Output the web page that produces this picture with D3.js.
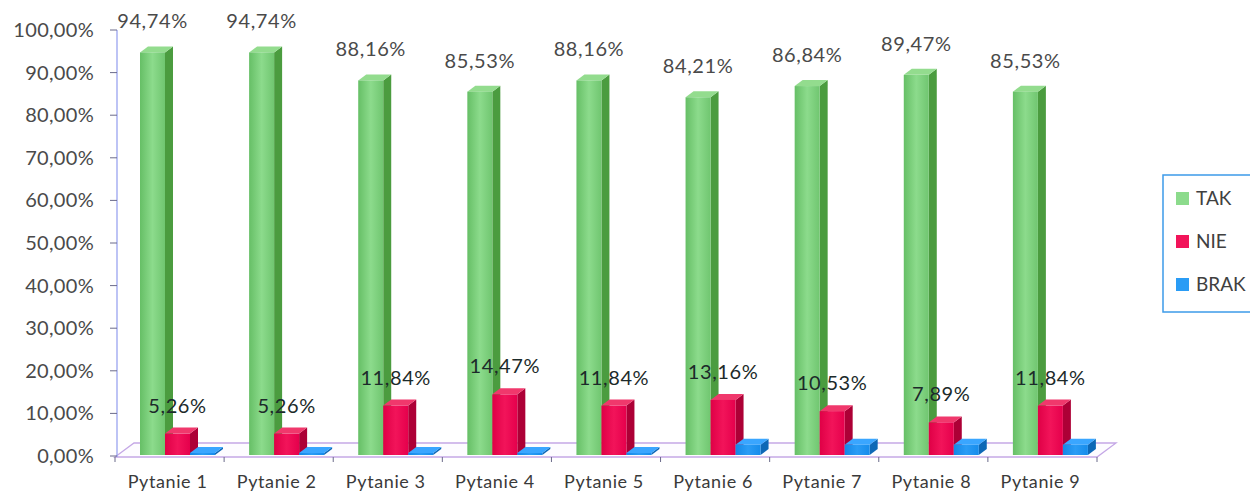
<!DOCTYPE html>
<html>
<head>
<meta charset="utf-8">
<title>Pytania</title>
<script src="https://cdnjs.cloudflare.com/ajax/libs/d3/7.8.5/d3.min.js"></script>
<style>
body { margin: 0; background: #fff; }
text { font-family: Lato, "Open Sans", sans-serif; }
.tick-label { font-size: 20px; fill: #4a4a4a; letter-spacing: 0.3px; }
.cat-label { font-size: 18px; fill: #3a3a3a; text-anchor: middle; letter-spacing: 0.6px; }
.val-tak { font-size: 20px; fill: #4a4a4a; text-anchor: middle; letter-spacing: 0.6px; }
.val-nie { font-size: 20px; fill: #1c2a2a; text-anchor: middle; letter-spacing: 0.6px; }
.legend-label { font-size: 19px; fill: #404040; }
</style>
</head>
<body>
<svg width="1250" height="492"></svg>
<script>
var categories = ["Pytanie 1", "Pytanie 2", "Pytanie 3", "Pytanie 4", "Pytanie 5",
                  "Pytanie 6", "Pytanie 7", "Pytanie 8", "Pytanie 9"];
var seriesNames = ["TAK", "NIE", "BRAK"];
var takValues = [94.74, 94.74, 88.16, 85.53, 88.16, 84.21, 86.84, 89.47, 85.53];
var nieValues = [5.26, 5.26, 11.84, 14.47, 11.84, 13.16, 10.53, 7.89, 11.84];
var brakValues = [0, 0, 0, 0, 0, 2.63, 2.63, 2.63, 2.63];
var yTicks = [0, 10, 20, 30, 40, 50, 60, 70, 80, 90, 100];

var fmt = function (v) { return v.toFixed(2).replace(".", ",") + "%"; };

var colors = {
  TAK:  { front: ["#66bf66", "#8cdb8c", "#70c670"], side: "#4b9c3f", top: "#93dc8e" },
  NIE:  { front: ["#df0046", "#f2145a", "#e5004c"], side: "#ad0036", top: "#f0386c" },
  BRAK: { front: ["#1488e6", "#2a9cf5", "#168ceb"], side: "#0d68b6", top: "#3aa6ff" }
};

var svg = d3.select("svg");
var defs = svg.append("defs");
seriesNames.forEach(function (s) {
  var g = defs.append("linearGradient").attr("id", "grad-" + s)
    .attr("x1", "0%").attr("x2", "100%").attr("y1", "0%").attr("y2", "0%");
  g.append("stop").attr("offset", "0%").attr("stop-color", colors[s].front[0]);
  g.append("stop").attr("offset", "50%").attr("stop-color", colors[s].front[1]);
  g.append("stop").attr("offset", "100%").attr("stop-color", colors[s].front[2]);
});

var x = d3.scaleBand().domain(categories).range([115, 1097]);
var sub = d3.scaleBand().domain(seriesNames).range([25, 25 + 75]);
var y = d3.scaleLinear().domain([0, 100]).range([456, 30]);
var dx = 8, dy = 6;
var fdx = 19, fdy = 14;

// floor
var y0 = y(0) + 1;
svg.append("path")
  .attr("d", "M" + x.range()[0] + "," + y0 + " L" + (x.range()[0] + fdx) + "," + (y0 - fdy) +
             " L" + (x.range()[1] + fdx) + "," + (y0 - fdy) + " L" + x.range()[1] + "," + y0 + " Z")
  .attr("fill", "#fdfcff")
  .attr("stroke", "#c5a8e6")
  .attr("stroke-width", 1.3);

// y axis
svg.append("line")
  .attr("x1", 117).attr("x2", 117).attr("y1", y(100)).attr("y2", y0)
  .attr("stroke", "#9aa4f0").attr("stroke-width", 1.3);
svg.selectAll(".ytick").data(yTicks).enter().append("line")
  .attr("x1", 110).attr("x2", 117)
  .attr("y1", function (d) { return y(d); }).attr("y2", function (d) { return y(d); })
  .attr("stroke", "#6b6b8a");
svg.selectAll(".tick-label").data(yTicks).enter().append("text")
  .attr("class", "tick-label")
  .attr("x", 94).attr("y", function (d) { return y(d) + 7; })
  .attr("text-anchor", "end")
  .text(fmt);

// x axis ticks and labels
var bounds = categories.map(function (c) { return x(c); }).concat([x.range()[1]]);
svg.selectAll(".xtick").data(bounds).enter().append("line")
  .attr("x1", function (d) { return d; }).attr("x2", function (d) { return d; })
  .attr("y1", y0).attr("y2", y0 + 5)
  .attr("stroke", "#6b6b8a");
svg.selectAll(".cat-label").data(categories).enter().append("text")
  .attr("class", "cat-label")
  .attr("x", function (d) { return x(d) + x.bandwidth() / 2 - 2; })
  .attr("y", 488)
  .text(function (d) { return d; });

// bars
var rows = [];
categories.forEach(function (c, i) {
  rows.push({ cat: c, s: "TAK", v: takValues[i] });
  rows.push({ cat: c, s: "NIE", v: nieValues[i] });
  rows.push({ cat: c, s: "BRAK", v: brakValues[i] });
});

var bars = svg.selectAll(".bar").data(rows).enter().append("g").attr("class", "bar");
bars.each(function (d) {
  var g = d3.select(this);
  var x0 = x(d.cat) + sub(d.s), x1 = x0 + sub.bandwidth();
  var yb = y(0) - 1, yt = Math.min(y(d.v), yb - 2);
  g.append("path")
    .attr("d", "M" + x1 + "," + yt + " L" + (x1 + dx) + "," + (yt - dy) + " L" + (x1 + dx) + "," + (yb - dy) +
               " L" + x1 + "," + yb + " Z")
    .attr("fill", colors[d.s].side);
  g.append("path")
    .attr("d", "M" + x0 + "," + yt + " L" + (x0 + dx) + "," + (yt - dy) + " L" + (x1 + dx) + "," + (yt - dy) +
               " L" + x1 + "," + yt + " Z")
    .attr("fill", colors[d.s].top);
  g.append("rect")
    .attr("x", x0).attr("y", yt)
    .attr("width", x1 - x0).attr("height", yb - yt)
    .attr("fill", "url(#grad-" + d.s + ")");
});

// value labels
svg.selectAll(".val-tak").data(takValues).enter().append("text")
  .attr("class", "val-tak")
  .attr("x", function (d, i) { return x(categories[i]) + sub("TAK") + sub.bandwidth() / 2; })
  .attr("y", function (d) { return y(d) - 24; })
  .text(fmt);
svg.selectAll(".val-nie").data(nieValues).enter().append("text")
  .attr("class", "val-nie")
  .attr("x", function (d, i) { return x(categories[i]) + sub("NIE") + sub.bandwidth() / 2; })
  .attr("y", function (d) { return y(d) - 21; })
  .text(fmt);

// legend
var legend = svg.append("g").attr("transform", "translate(1163,175)");
legend.append("rect")
  .attr("x", 0).attr("y", 0).attr("width", 110).attr("height", 137)
  .attr("fill", "#fff").attr("stroke", "#3d9be9").attr("stroke-width", 1.5);
var items = legend.selectAll(".legend-item").data(seriesNames).enter().append("g")
  .attr("transform", function (d, i) { return "translate(13," + (24 + i * 43) + ")"; });
items.append("rect")
  .attr("x", 0).attr("y", -7).attr("width", 13).attr("height", 13)
  .attr("fill", function (d) { return colors[d].front[1]; });
items.append("text")
  .attr("class", "legend-label")
  .attr("x", 20).attr("y", 6)
  .text(function (d) { return d; });
</script>
</body>
</html>
